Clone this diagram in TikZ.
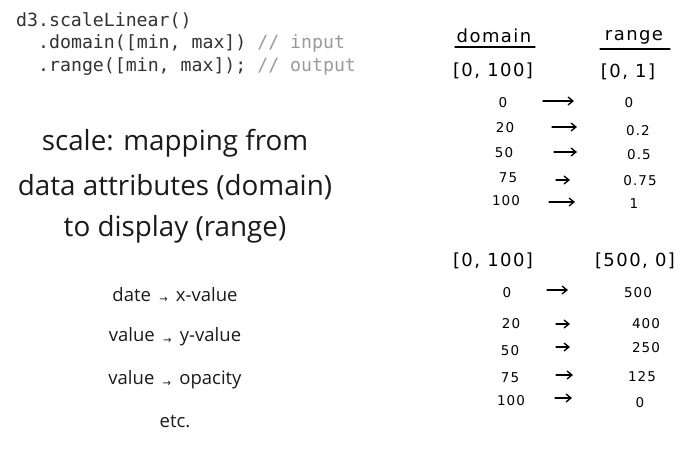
\documentclass[tikz,border=0pt]{standalone}
\usepackage{fontspec}
\setmainfont{Open Sans}
\setmonofont{DejaVu Sans Mono}
\newfontfamily\symfont{DejaVu Sans}
\newfontfamily\handfont[LetterSpace=8]{DejaVu Sans}
\usetikzlibrary{arrows.meta}
\definecolor{codegray}{HTML}{333333}
\definecolor{commentgray}{HTML}{9A9A9A}
\definecolor{ink}{HTML}{1A1A1A}
\newcommand{\sarr}{\hspace{0.45em}{\symfont\fontsize{10}{10}\selectfont\raisebox{-1.5pt}{→}}\hspace{0.45em}}
\begin{document}
\begin{tikzpicture}[x=1pt,y=-1pt,
  code/.style={anchor=base west,inner sep=0pt,font=\ttfamily\fontsize{18.2}{18.2}\selectfont,text=codegray},
  headline/.style={inner sep=0pt,font=\fontsize{27.8}{27.8}\selectfont,text=ink},
  mapline/.style={inner sep=0pt,font=\fontsize{18.5}{18.5}\selectfont,text=ink},
  hand/.style={inner sep=0pt,font=\handfont\fontsize{13.5}{13.5}\selectfont,text=black},
  handbig/.style={inner sep=0pt,font=\handfont\fontsize{18}{18}\selectfont,text=black},
  harrow/.style={draw=black,line width=1.3pt,line cap=round,-{Straight Barb[length=5pt,width=8pt]}},
  uline/.style={draw=black,line width=1.2pt,line cap=round}]
\useasboundingbox (0,0) rectangle (699,460);

% code snippet (continuation lines indented by two characters)
\node[code] (c1) at (16,27) {d3.scaleLinear()};
\node[code] (c2) at (38,49) {.domain([min, max]) \textcolor{commentgray}{// input}};
\node[code] (c3) at (38,71) {.range([min, max]); \textcolor{commentgray}{// output}};

% definition
\node[headline] (h1) at (175,143) {scale: mapping from};
\node[headline] (h2) at (175,187) {data attributes (domain)};
\node[headline] (h3) at (175,229) {to display (range)};

% examples
\node[mapline] (m1) at (175,295) {date\sarr x-value};
\node[mapline] (m2) at (175,337) {value\sarr y-value};
\node[mapline] (m3) at (175,380) {value\sarr opacity};
\node[mapline] (m4) at (175,422) {etc.};

% first table
\node[handbig] (dom) at (494,36) {domain};
\node[handbig] (ran) at (634,37) {range};
\coordinate (du1) at (455,47); \coordinate (du2) at (535,47);
\coordinate (ru1) at (600,49); \coordinate (ru2) at (670,49);
\draw[uline] (du1) -- (du2);
\draw[uline] (ru1) -- (ru2);
\node[handbig] (dA) at (493,71) {[0, 100]};
\node[handbig] (rA) at (628,72) {[0, 1]};

\node[hand] (d1) at (503,103) {0};
\node[hand] (d2) at (505,128) {20};
\node[hand] (d3) at (504,153) {50};
\node[hand] (d4) at (508,178) {75};
\node[hand] (d5) at (506,201) {100};
\node[hand] (r1) at (629,103) {0};
\node[hand] (r2) at (638,131) {0.2};
\node[hand] (r3) at (639,155) {0.5};
\node[hand] (r4) at (640,181) {0.75};
\node[hand] (r5) at (634,204) {1};
\coordinate (a1s) at (543,101); \coordinate (a1e) at (574,101);
\coordinate (a2s) at (552,127); \coordinate (a2e) at (577,127);
\coordinate (a3s) at (554,152); \coordinate (a3e) at (577,152);
\coordinate (a4s) at (556,180); \coordinate (a4e) at (570,180);
\coordinate (a5s) at (549,202); \coordinate (a5e) at (575,202);
\foreach \i in {1,...,5} \draw[harrow] (a\i s) -- (a\i e);

% second table
\node[handbig] (dB) at (493,261) {[0, 100]};
\node[handbig] (rB) at (635,261) {[500, 0]};
\node[hand] (e1) at (507,293) {0};
\node[hand] (e2) at (511,324) {20};
\node[hand] (e3) at (510,351) {50};
\node[hand] (e4) at (510,378) {75};
\node[hand] (e5) at (511,401) {100};
\node[hand] (s1) at (638,293) {500};
\node[hand] (s2) at (646,324) {400};
\node[hand] (s3) at (646,348) {250};
\node[hand] (s4) at (642,377) {125};
\node[hand] (s5) at (640,403) {0};
\coordinate (b1s) at (547,290); \coordinate (b1e) at (568,290);
\coordinate (b2s) at (556,324); \coordinate (b2e) at (570,324);
\coordinate (b3s) at (556,347); \coordinate (b3e) at (570,347);
\coordinate (b4s) at (556,375); \coordinate (b4e) at (573,375);
\coordinate (b5s) at (555,398); \coordinate (b5e) at (572,398);
\foreach \i in {1,...,5} \draw[harrow] (b\i s) -- (b\i e);
\end{tikzpicture}
\end{document}
